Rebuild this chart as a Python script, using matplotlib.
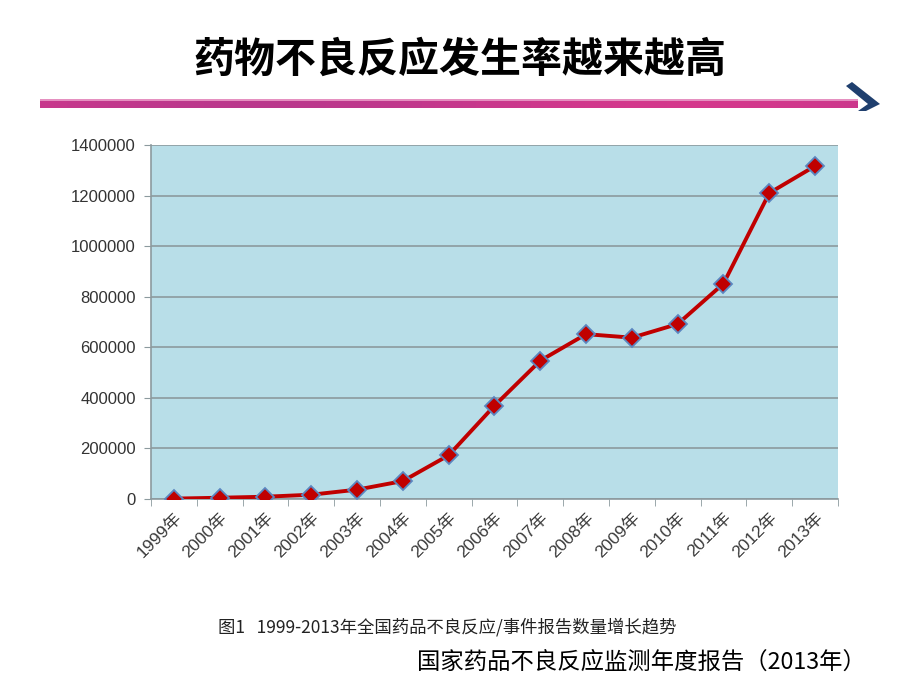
import numpy as np
import matplotlib.pyplot as plt
from matplotlib.patches import Polygon, Rectangle

plt.rcParams['font.family'] = ['Liberation Sans', 'Noto Sans CJK SC', 'DejaVu Sans']

# data
years = ['1999年', '2000年', '2001年', '2002年', '2003年', '2004年', '2005年', '2006年',
         '2007年', '2008年', '2009年', '2010年', '2011年', '2012年', '2013年']
reports = [1500, 5000, 9000, 17000, 37000, 71000, 173000, 369000,
           547000, 652000, 638000, 692000, 852000, 1210000, 1317000]
yticks = [0, 200000, 400000, 600000, 800000, 1000000, 1200000, 1400000]

title = '药物不良反应发生率越来越高'
caption = '图1   1999-2013年全国药品不良反应/事件报告数量增长趋势'
source = '国家药品不良反应监测年度报告（2013年）'

fig = plt.figure(figsize=(9.2, 6.9), dpi=100)
W, H = 920, 690

# title
fig.text(0.5, 1 - 60 / H, title, ha='center', va='center', fontsize=29.5,
         fontweight='bold', family=['Noto Sans CJK SC'], color='black')

# decorative bar with arrow head
bar_top, bar_bot = 1 - 99 / H, 1 - 108 / H
n = 60
xs = np.linspace(40 / W, 858 / W, n + 1)
for i in range(n):
    t = i / n
    c = (0.78 - 0.05 * np.sin(t * 6), 0.22, 0.55)
    fig.patches.append(Rectangle((xs[i], bar_bot), xs[i + 1] - xs[i], bar_top - bar_bot,
                                 transform=fig.transFigure, color=c, lw=0))
fig.patches.append(Rectangle((40 / W, bar_top - 2 / H), 818 / W, 2 / H,
                             transform=fig.transFigure, color='#e590c0', lw=0))
arrow = [(852, 82), (880, 104), (866, 111), (858, 111), (868, 104), (846, 86)]
fig.patches.append(Polygon([(x / W, 1 - y / H) for x, y in arrow], closed=True,
                           transform=fig.transFigure, facecolor='#1f3f6e', edgecolor='none'))

# chart
ax = fig.add_axes([151 / W, 1 - 499 / H, 687 / W, 354 / H])
ax.set_facecolor('#b8dee8')
x = np.arange(len(years))
ax.plot(x, reports, color='#c00000', lw=2.8, zorder=3,
        marker='D', markersize=9, markerfacecolor='#c00000',
        markeredgecolor='#5b86c0', markeredgewidth=1.3)

ax.set_xlim(-0.5, len(years) - 0.5)
ax.set_ylim(0, 1400000)
ax.set_yticks(yticks)
ax.set_yticklabels([str(v) for v in yticks], fontsize=12, color='#333333')
ax.yaxis.grid(True, color='#8c9a9e', lw=1.2)
ax.set_axisbelow(True)

ax.set_xticks(x)
ax.set_xticklabels(years, rotation=45, ha='right', rotation_mode='anchor',
                   fontsize=12.5, color='#3a3a3a')
ax.set_xticks(np.arange(-0.5, len(years)), minor=True)
ax.tick_params(axis='x', which='major', length=0, pad=8)
ax.tick_params(axis='x', which='minor', length=5, color='#8c9a9e')
ax.tick_params(axis='y', length=5, color='#8c9a9e', pad=6)

for s in ['top', 'right']:
    ax.spines[s].set_visible(False)
for s in ['left', 'bottom']:
    ax.spines[s].set_color('#8c9a9e')
    ax.spines[s].set_linewidth(1.2)

# captions
fig.text(218 / W, 1 - 627 / H, caption, ha='left', va='center', fontsize=12.5,
         family=['Noto Sans CJK SC'], color='#222222')
fig.text(866 / W, 1 - 662 / H, source, ha='right', va='center', fontsize=16.8,
         family=['Noto Sans CJK SC'], color='black')

fig.savefig('out.png', dpi=100)
